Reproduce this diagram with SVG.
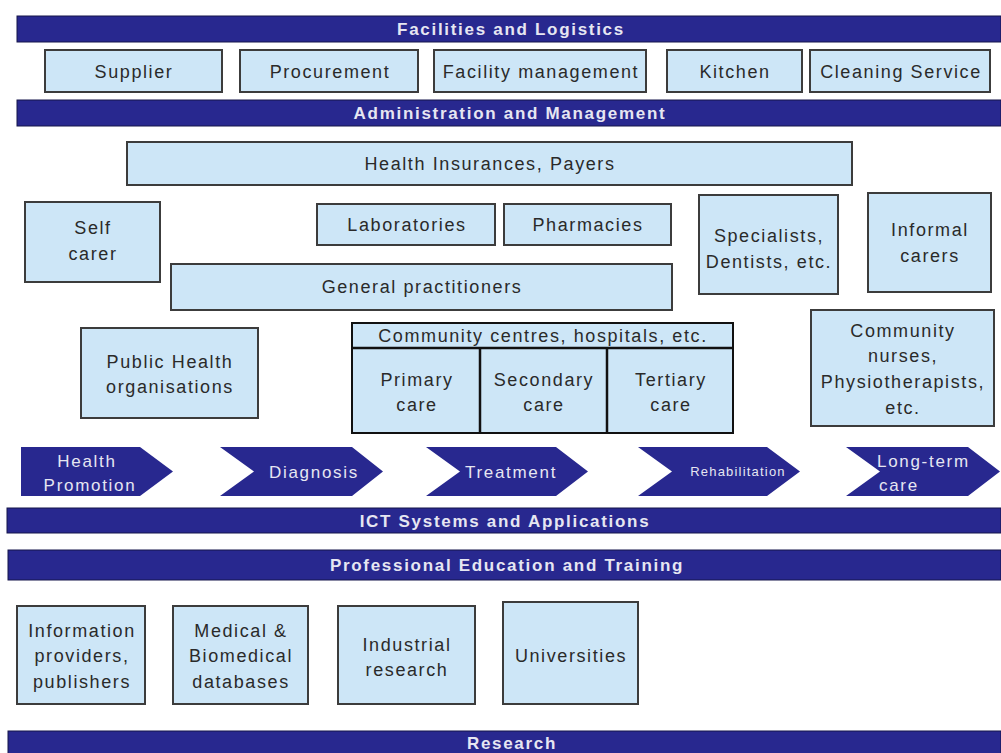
<svg xmlns="http://www.w3.org/2000/svg" width="1001" height="753" viewBox="0 0 1001 753">
<style>
.bar{fill:#28288f;stroke:#15154a;stroke-width:1}
.bt{font-family:"Liberation Sans",Arial,sans-serif;font-size:17px;font-weight:bold;fill:#e6e6f2;text-anchor:middle;letter-spacing:1.7px}
.box{fill:#cde6f7;stroke:#3c3c3c;stroke-width:2}
.t{font-family:"Liberation Sans",Arial,sans-serif;font-size:18px;fill:#2a2a2a;text-anchor:middle;letter-spacing:1.6px}
.chev{fill:#28288f}
.ct{font-family:"Liberation Sans",Arial,sans-serif;font-size:17px;fill:#e6e6f2;text-anchor:middle;letter-spacing:1.7px}
</style>
<rect width="1001" height="753" fill="#ffffff"/>

<g id="bar-facilities"><rect class="bar" x="17" y="16" width="984" height="26"/><text class="bt" x="511" y="35">Facilities and Logistics</text></g>
<g id="supplier"><rect class="box" x="45" y="50" width="177" height="42"/><text class="t" x="134" y="78">Supplier</text></g>
<g id="procurement"><rect class="box" x="240" y="50" width="178" height="42"/><text class="t" x="330" y="78">Procurement</text></g>
<g id="facility-management"><rect class="box" x="434" y="50" width="212" height="42"/><text class="t" x="541" y="78">Facility management</text></g>
<g id="kitchen"><rect class="box" x="667" y="50" width="135" height="42"/><text class="t" x="735" y="78">Kitchen</text></g>
<g id="cleaning"><rect class="box" x="810" y="50" width="180" height="42"/><text class="t" x="901" y="78">Cleaning Service</text></g>
<g id="bar-admin"><rect class="bar" x="17" y="100" width="984" height="26"/><text class="bt" x="510" y="119">Administration and Management</text></g>

<g id="health-insurances"><rect class="box" x="127" y="142" width="725" height="43"/><text class="t" x="490" y="170">Health Insurances, Payers</text></g>
<g id="self-carer"><rect class="box" x="25" y="202" width="135" height="80"/><text class="t" x="93" y="234">Self</text><text class="t" x="93" y="260">carer</text></g>
<g id="laboratories"><rect class="box" x="317" y="204" width="178" height="41"/><text class="t" x="407" y="231">Laboratories</text></g>
<g id="pharmacies"><rect class="box" x="504" y="204" width="167" height="41"/><text class="t" x="588" y="231">Pharmacies</text></g>
<g id="specialists"><rect class="box" x="699" y="195" width="139" height="99"/><text class="t" x="769" y="242">Specialists,</text><text class="t" x="769" y="268">Dentists, etc.</text></g>
<g id="informal-carers"><rect class="box" x="868" y="193" width="123" height="99"/><text class="t" x="930" y="236">Informal</text><text class="t" x="930" y="262">carers</text></g>
<g id="general-practitioners"><rect class="box" x="171" y="264" width="501" height="46"/><text class="t" x="422" y="293">General practitioners</text></g>

<g id="public-health"><rect class="box" x="81" y="328" width="177" height="90"/><text class="t" x="170" y="368">Public Health</text><text class="t" x="170" y="393">organisations</text></g>
<g id="community-centres"><rect class="box" x="352" y="323" width="381" height="110"/><line x1="352" y1="348" x2="733" y2="348" stroke="#111" stroke-width="2.5"/><line x1="480" y1="348" x2="480" y2="433" stroke="#111" stroke-width="2.5"/><line x1="607" y1="348" x2="607" y2="433" stroke="#111" stroke-width="2.5"/><rect x="352" y="323" width="381" height="110" fill="none" stroke="#111" stroke-width="2"/><text class="t" x="543" y="342">Community centres, hospitals, etc.</text></g>
<g id="primary-care"><text class="t" x="417" y="386">Primary</text><text class="t" x="417" y="411">care</text></g>
<g id="secondary-care"><text class="t" x="544" y="386">Secondary</text><text class="t" x="544" y="411">care</text></g>
<g id="tertiary-care"><text class="t" x="671" y="386">Tertiary</text><text class="t" x="671" y="411">care</text></g>
<g id="community-nurses"><rect class="box" x="811" y="310" width="183" height="116"/><text class="t" x="903" y="337">Community</text><text class="t" x="903" y="362">nurses,</text><text class="t" x="903" y="388">Physiotherapists,</text><text class="t" x="903" y="414">etc.</text></g>

<g id="health-promotion"><path class="chev" d="M21,447 H140 L173,471.5 L140,496 H21 Z"/><text class="ct" x="87" y="467">Health</text><text class="ct" x="90" y="491">Promotion</text></g>
<g id="diagnosis"><path class="chev" d="M220,447 H352 L383,471.5 L352,496 H220 L254,471.5 Z"/><text class="ct" x="314" y="478">Diagnosis</text></g>
<g id="treatment"><path class="chev" d="M426,447 H556 L588,471.5 L556,496 H426 L460,471.5 Z"/><text class="ct" x="511" y="478">Treatment</text></g>
<g id="rehabilitation"><path class="chev" d="M638,447 H767 L800,471.5 L767,496 H638 L672,471.5 Z"/><text class="ct" x="738" y="476" style="font-size:13px;letter-spacing:1.2px">Rehabilitation</text></g>
<g id="long-term-care"><path class="chev" d="M846,447 H968 L1000,471.5 L968,496 H846 L880,471.5 Z"/><text class="ct" x="877" y="467" style="text-anchor:start">Long-term</text><text class="ct" x="879" y="491" style="text-anchor:start">care</text></g>

<g id="bar-ict"><rect class="bar" x="7" y="508" width="994" height="25"/><text class="bt" x="505" y="527">ICT Systems and Applications</text></g>
<g id="bar-education"><rect class="bar" x="8" y="550" width="993" height="30"/><text class="bt" x="507" y="571">Professional Education and Training</text></g>

<g id="information-providers"><rect class="box" x="17" y="606" width="128" height="98"/><text class="t" x="82" y="637">Information</text><text class="t" x="82" y="662">providers,</text><text class="t" x="82" y="688">publishers</text></g>
<g id="medical-databases"><rect class="box" x="173" y="606" width="135" height="98"/><text class="t" x="241" y="637">Medical &amp;</text><text class="t" x="241" y="662">Biomedical</text><text class="t" x="241" y="688">databases</text></g>
<g id="industrial-research"><rect class="box" x="338" y="606" width="137" height="98"/><text class="t" x="407" y="651">Industrial</text><text class="t" x="407" y="676">research</text></g>
<g id="universities"><rect class="box" x="503" y="602" width="135" height="102"/><text class="t" x="571" y="662">Universities</text></g>

<g id="bar-research"><rect class="bar" x="8" y="731" width="993" height="26"/><text class="bt" x="512" y="749">Research</text></g>

<g id="connectors"></g>
</svg>
